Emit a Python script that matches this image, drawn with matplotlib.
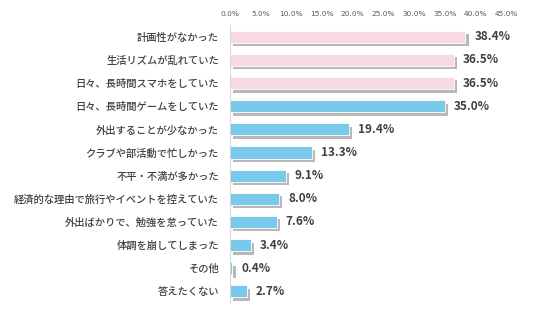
import matplotlib
matplotlib.use("Agg")
import matplotlib.pyplot as plt
import matplotlib.patheffects as pe

plt.rcParams['font.family'] = ['Noto Sans CJK JP', 'DejaVu Sans']

labels = ['計画性がなかった', '生活リズムが乱れていた', '日々、長時間スマホをしていた',
          '日々、長時間ゲームをしていた', '外出することが少なかった', 'クラブや部活動で忙しかった',
          '不平・不満が多かった', '経済的な理由で旅行やイベントを控えていた',
          '外出ばかりで、勉強を怠っていた', '体調を崩してしまった', 'その他', '答えたくない']
values = [38.4, 36.5, 36.5, 35.0, 19.4, 13.3, 9.1, 8.0, 7.6, 3.4, 0.4, 2.7]
colors = ['#f9d8e6'] * 3 + ['#79c9ea'] * 9
ticks = [0, 5, 10, 15, 20, 25, 30, 35, 40, 45]

fig = plt.figure(figsize=(5.36, 3.22), dpi=100)
ax = fig.add_axes([0.429, 0.059, 0.515, 0.863])

y = list(range(len(values)))
bars = ax.barh(y, values, height=0.52, color=colors, edgecolor='white', linewidth=0.6)
for b in bars:
    b.set_path_effects([pe.SimplePatchShadow(offset=(2.5, -2.5), shadow_rgbFace='#7f7f7f', alpha=0.55),
                        pe.Normal()])

for yi, v in zip(y, values):
    ax.text(v + 1.5, yi, f'{v:.1f}%', va='center', ha='left', fontsize=8.5,
            fontweight='bold', color='#404040')

ax.set_ylim(len(values) - 0.5, -0.5)
ax.set_xlim(0, 45)
ax.set_yticks(y)
ax.set_yticklabels(labels, fontsize=7.4, color='#3f3f3f', fontweight='medium')
ax.set_xticks(ticks)
ax.set_xticklabels([f'{t:.1f}%' for t in ticks], fontsize=5.3, color='#595959',
                   family='DejaVu Sans')
ax.xaxis.tick_top()
ax.tick_params(length=0, pad=6)
ax.tick_params(axis='y', pad=8)
for s in ['top', 'right', 'bottom']:
    ax.spines[s].set_visible(False)
ax.spines['left'].set_color('#d9d9d9')
ax.spines['left'].set_linewidth(0.8)

fig.savefig('out.png', dpi=100)
